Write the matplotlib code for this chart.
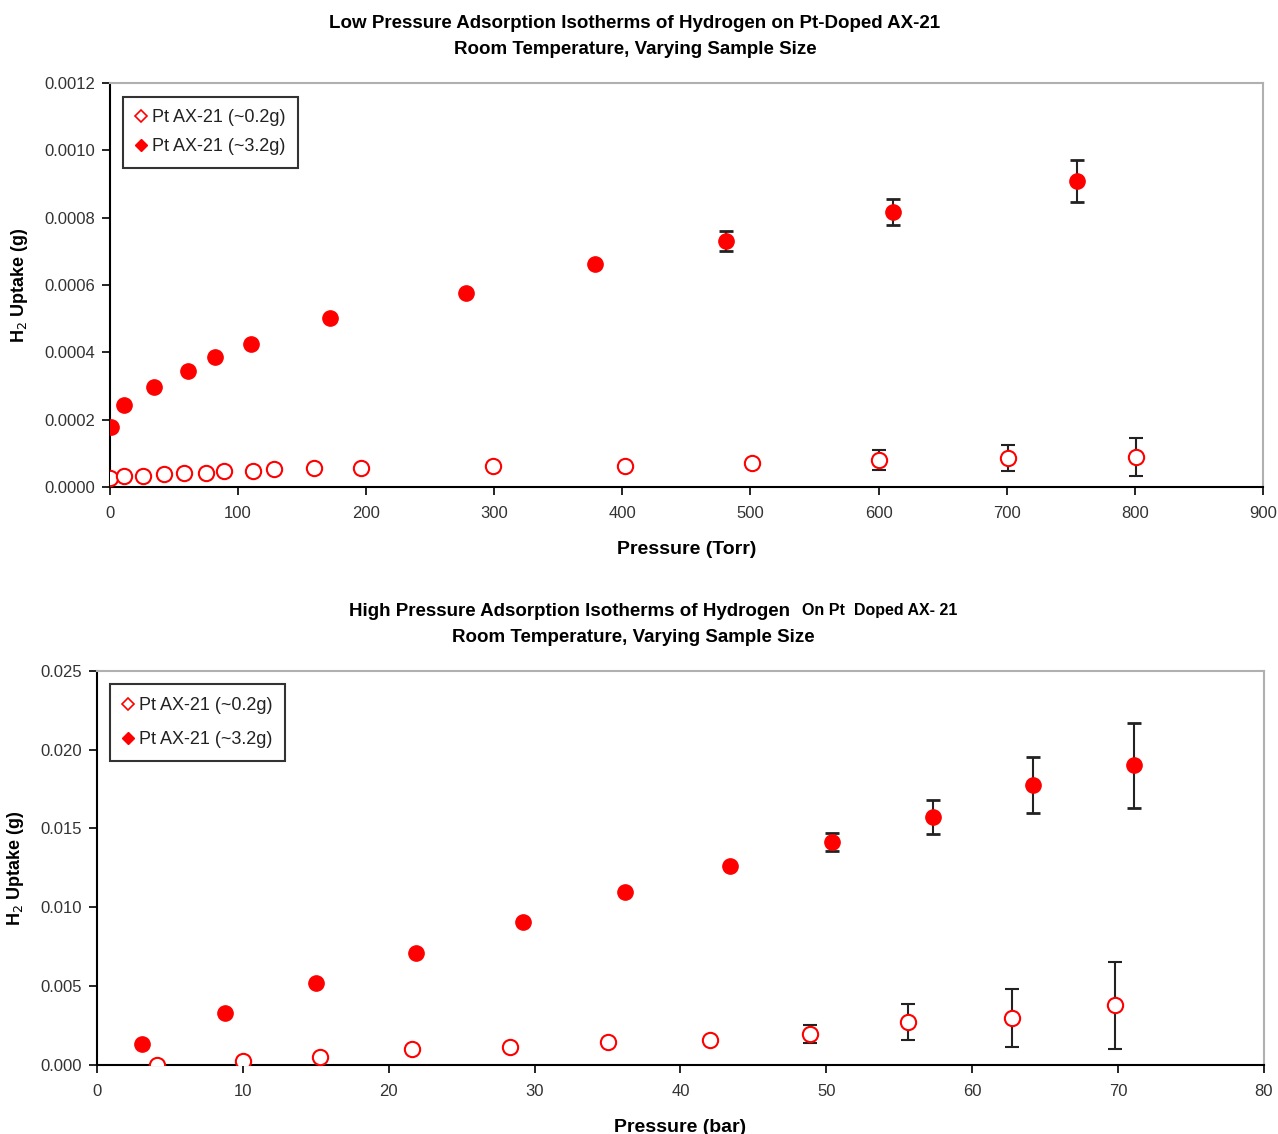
import matplotlib.pyplot as plt
from matplotlib.lines import Line2D
from matplotlib.ticker import FormatStrFormatter, MultipleLocator

plt.rcParams["font.family"] = ["Liberation Sans", "DejaVu Sans"]

# Low pressure, Torr
low_small_p = [0, 11, 26, 42, 58, 75, 89, 112, 128, 159, 196, 299, 402, 501, 600, 701, 801]
low_small_h2 = [0.0000258, 0.0000336, 0.000033, 0.0000386, 0.0000425, 0.0000425, 0.0000475,
                0.0000475, 0.0000525, 0.0000574, 0.0000574, 0.0000624, 0.0000624, 0.0000713,
                0.000081, 0.0000852, 0.00009]
low_small_err = [0, 0, 0, 0, 0, 0, 0, 0, 0, 0, 0, 0, 0, 0.000008, 0.000029, 0.0000386, 0.0000565]

low_large_p = [1, 11, 34, 61, 82, 110, 172, 278, 379, 481, 611, 755]
low_large_h2 = [0.000178, 0.000244, 0.000297, 0.000345, 0.000386, 0.000425, 0.000502,
                0.000576, 0.000662, 0.000731, 0.000817, 0.000909]
low_large_err = [0, 0, 0, 0, 0, 0, 0, 0, 0, 0.000029, 0.000039, 0.000061]

# High pressure, bar
high_small_p = [4.1, 10.0, 15.3, 21.6, 28.3, 35.0, 42.0, 48.9, 55.6, 62.7, 69.8]
high_small_h2 = [0.0, 0.00023, 0.00053, 0.00104, 0.00114, 0.00146, 0.00156, 0.00197,
                 0.0027, 0.00298, 0.00378]
high_small_err = [0, 0, 0, 0, 0, 0, 0, 0.00058, 0.00114, 0.00182, 0.00275]

high_large_p = [3.1, 8.8, 15.0, 21.9, 29.2, 36.2, 43.4, 50.4, 57.3, 64.2, 71.1]
high_large_h2 = [0.00135, 0.00328, 0.0052, 0.00712, 0.00904, 0.01099, 0.01259, 0.01414,
                 0.01574, 0.01777, 0.019]
high_large_err = [0, 0, 0, 0, 0, 0, 0.0001, 0.00056, 0.00108, 0.00177, 0.0027]

legend_labels = ["Pt AX-21 (~0.2g)", "Pt AX-21 (~3.2g)"]

RED = "#ff0000"
TICK_COLOR = "#333333"


def draw_panel(ax, p_small, h_small, e_small, p_large, h_large, e_large, spacing):
    ax.errorbar(p_small, h_small, yerr=e_small, fmt="o", ms=11, mfc="white", mec=RED,
                mew=1.5, ecolor="#222222", elinewidth=1.5, capsize=5, capthick=2,
                zorder=3)
    ax.errorbar(p_large, h_large, yerr=e_large, fmt="o", ms=11, mfc=RED, mec=RED,
                ecolor="#222222", elinewidth=1.5, capsize=5, capthick=2, zorder=3)

    for side in ["top", "right"]:
        ax.spines[side].set_color("#b0b0b0")
        ax.spines[side].set_linewidth(1.5)
    for side in ["left", "bottom"]:
        ax.spines[side].set_color("black")
        ax.spines[side].set_linewidth(1.5)
    ax.tick_params(direction="out", length=6, width=1.2, labelsize=12,
                   labelcolor=TICK_COLOR, pad=5)
    ax.tick_params(axis="x", pad=8)

    handles = [
        Line2D([], [], ls="none", marker="D", ms=6, mfc="white", mec=RED, mew=1.2),
        Line2D([], [], ls="none", marker="D", ms=6, mfc=RED, mec=RED),
    ]
    leg = ax.legend(handles, legend_labels, loc="upper left", bbox_to_anchor=(0.008, 0.975),
                    fontsize=13, frameon=True, fancybox=False, edgecolor="black",
                    handlelength=0.6, handletextpad=0.3, labelspacing=spacing,
                    borderpad=0.7, borderaxespad=0.2)
    leg.get_frame().set_linewidth(1.5)
    for t in leg.get_texts():
        t.set_color("#222222")


fig = plt.figure(figsize=(12.78, 11.34), dpi=100)

ax1 = fig.add_axes([0.0861, 0.5705, 0.902, 0.3563])
draw_panel(ax1, low_small_p, low_small_h2, low_small_err,
           low_large_p, low_large_h2, low_large_err, 0.65)
ax1.set_xlim(0, 900)
ax1.set_ylim(0, 0.0012)
ax1.xaxis.set_major_locator(MultipleLocator(100))
ax1.yaxis.set_major_locator(MultipleLocator(0.0002))
ax1.yaxis.set_major_formatter(FormatStrFormatter("%.4f"))
ax1.set_xlabel("Pressure (Torr)", fontsize=14, fontweight="bold", labelpad=14)
ax1.set_ylabel("H$_2$ Uptake (g)", fontsize=13, fontweight="bold", labelpad=10)

ax2 = fig.add_axes([0.0759, 0.0608, 0.9131, 0.3477])
draw_panel(ax2, high_small_p, high_small_h2, high_small_err,
           high_large_p, high_large_h2, high_large_err, 0.95)
ax2.set_xlim(0, 80)
ax2.set_ylim(0, 0.025)
ax2.xaxis.set_major_locator(MultipleLocator(10))
ax2.yaxis.set_major_locator(MultipleLocator(0.005))
ax2.yaxis.set_major_formatter(FormatStrFormatter("%.3f"))
ax2.set_xlabel("Pressure (bar)", fontsize=14, fontweight="bold", labelpad=14)
ax2.set_ylabel("H$_2$ Uptake (g)", fontsize=13, fontweight="bold", labelpad=10)

fig.text(635 / 1278, 1 - 24 / 1134,
         "Low Pressure Adsorption Isotherms of Hydrogen on Pt-Doped AX-21",
         ha="center", va="center", fontsize=13.5, fontweight="bold")
fig.text(635 / 1278, 1 - 50 / 1134, "Room Temperature, Varying Sample Size",
         ha="center", va="center", fontsize=13.5, fontweight="bold")

fig.text(790 / 1278, 1 - 611 / 1134, "High Pressure Adsorption Isotherms of Hydrogen",
         ha="right", va="center", fontsize=13.5, fontweight="bold")
fig.text(802 / 1278, 1 - 611 / 1134, "On Pt  Doped AX- 21",
         ha="left", va="center", fontsize=11.5, fontweight="bold")
fig.text(633 / 1278, 1 - 637 / 1134, "Room Temperature, Varying Sample Size",
         ha="center", va="center", fontsize=13.5, fontweight="bold")

fig.savefig("out.png", dpi=100)
